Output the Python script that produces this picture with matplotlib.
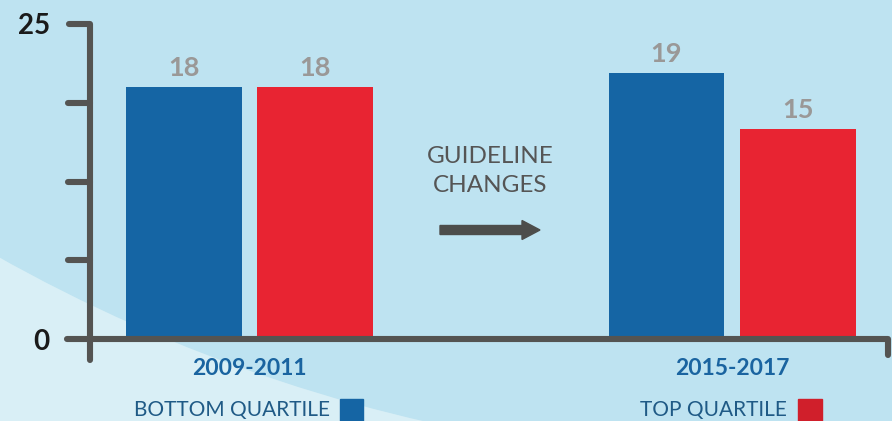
#!/usr/bin/env python
import matplotlib
matplotlib.use('Agg')
import matplotlib.pyplot as plt
import numpy as np
from matplotlib.patches import Ellipse, Rectangle, FancyArrow
from matplotlib.transforms import blended_transform_factory

periods = ['2009-2011', '2015-2017']
bottom_quartile = [18, 19]
top_quartile = [18, 15]
legend_labels = ['BOTTOM QUARTILE', 'TOP QUARTILE']
y_labels = ['0', '', '', '', '25']

BLUE = '#1565a4'
RED = '#e82432'
AXIS = '#545452'
BG_DARK = '#bee3f1'
BG_LIGHT = '#d9eff6'


def main():
    plt.rcParams['font.family'] = ['Lato', 'DejaVu Sans']
    W, H = 892, 421
    fig = plt.figure(figsize=(W / 100, H / 100), dpi=100, facecolor=BG_LIGHT)

    # big pale circle behind everything
    bg = Ellipse((781 / W, 1557 / H), 2 * 1597 / W, 2 * 1597 / H,
                 transform=fig.transFigure, color=BG_DARK, zorder=-10)
    fig.add_artist(bg)

    ax = fig.add_axes([90 / W, (H - 339) / H, 798 / W, 315 / H])
    ax.set_facecolor('none')
    for s in ax.spines.values():
        s.set_visible(False)

    ytop = 22.5
    x = np.arange(len(periods))
    w = 0.24
    off = 0.136
    b1 = ax.bar(x - off, bottom_quartile, w, color=BLUE, zorder=2)
    b2 = ax.bar(x + off, top_quartile, w, color=RED, zorder=2)
    for bars, vals in ((b1, bottom_quartile), (b2, top_quartile)):
        for r, v in zip(bars, vals):
            ax.annotate(str(v), (r.get_x() + r.get_width() / 2, v),
                        xytext=(0, 11), textcoords='offset pixels',
                        ha='center', va='baseline', fontsize=19.5,
                        fontweight='bold', color='#9a9897')

    ax.set_xlim(-0.3306, 1.323)
    ax.set_ylim(0, ytop)
    yt = np.linspace(0, ytop, 5)
    ax.set_yticks(yt, labels=y_labels)
    ax.tick_params(axis='y', length=0, pad=29, labelsize=20)
    for lab in ax.get_yticklabels():
        lab.set_fontweight('bold')
        lab.set_color('#1a1a1a')
    ax.set_xticks(x, labels=periods)
    ax.tick_params(axis='x', length=0, pad=14)
    for lab in ax.get_xticklabels():
        lab.set_fontweight('bold')
        lab.set_fontsize(16.5)
        lab.set_color('#1a64a0')

    # hand-drawn axis lines with round caps
    bt = blended_transform_factory(ax.transAxes, ax.transData)
    lw = 4.4
    kw = dict(color=AXIS, lw=lw, solid_capstyle='round',
              solid_joinstyle='round', clip_on=False, zorder=3)
    ax.plot([-0.026, 0, 0], [1, 1, -0.067], transform=ax.transAxes, **kw)
    for v in yt[1:-1]:
        ax.plot([-0.027, 0], [v, v], transform=bt, **kw)
    ax.plot([-0.029, 1, 1], [0, 0, -0.05], transform=ax.transAxes, **kw)

    # annotation in the middle
    fig.text(490 / W, (H - 171) / H, 'GUIDELINE\nCHANGES', ha='center',
             va='center', fontsize=17.5, color='#555555', linespacing=1.45)
    arr = FancyArrow(4.40, (H - 230) / 100, 1.0, 0, width=0.09,
                     head_width=0.19, head_length=0.18,
                     length_includes_head=True, color='#4d4d4b',
                     transform=fig.dpi_scale_trans)
    fig.add_artist(arr)

    # legend pieces
    fig.text(330 / W, (H - 410) / H, legend_labels[0], ha='right',
             va='center', fontsize=15, color='#1f5a86')
    fig.add_artist(Rectangle((340 / W, 0), 23 / W, 22 / H,
                             transform=fig.transFigure, color=BLUE))
    fig.text(787 / W, (H - 410) / H, legend_labels[1], ha='right',
             va='center', fontsize=15, color='#1f5a86')
    fig.add_artist(Rectangle((798 / W, 0), 24 / W, 22 / H,
                             transform=fig.transFigure, color='#d01f2b'))

    fig.savefig('out.png', dpi=100, facecolor=BG_LIGHT)
    return 0


if __name__ == "__main__":
    main()
